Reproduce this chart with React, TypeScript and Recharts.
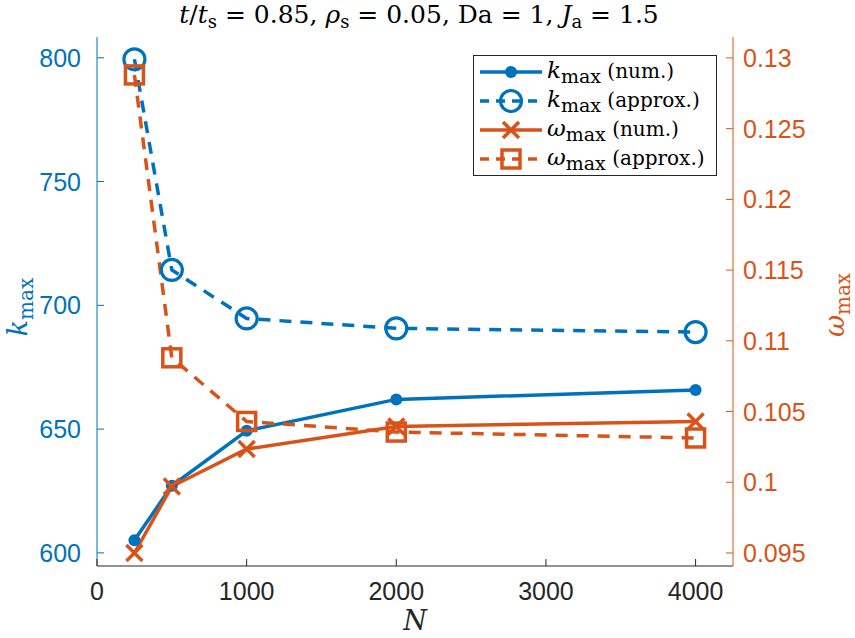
import React from 'react';
import { LineChart, Line, XAxis, YAxis } from 'recharts';

const N_VALUES = [250, 500, 1000, 2000, 4000];
const K_NUM = [605.1, 627.1, 649.3, 662.0, 665.8];
const K_APPROX = [799.4, 714.3, 694.7, 690.7, 689.2];
const W_NUM = [0.095, 0.0997, 0.10235, 0.10395, 0.1043];
const W_APPROX = [0.1288, 0.1088, 0.1043, 0.10355, 0.10313];

const X_TICKS = [0, 1000, 2000, 3000, 4000];
const K_TICKS = [600, 650, 700, 750, 800];
const W_TICKS = [0.095, 0.1, 0.105, 0.11, 0.115, 0.12, 0.125, 0.13];

const BLUE = '#0072BD';
const ORANGE = '#D95319';
const AXIS_GREY = '#262626';
const TICK_FONT = '"Liberation Sans", Arial, sans-serif';
const TEX_FONT = '"DejaVu Serif", serif';

const data = N_VALUES.map((n, i) => ({
  n,
  kNum: K_NUM[i],
  kApprox: K_APPROX[i],
  wNum: W_NUM[i],
  wApprox: W_APPROX[i],
}));

const fmtW = (v: number) => String(Number(v.toFixed(3)));

// marker shapes
const FilledDot = ({ cx, cy }: any) => <circle cx={cx} cy={cy} r={6} fill={BLUE} />;
const OpenDot = ({ cx, cy }: any) => (
  <circle cx={cx} cy={cy} r={10.5} fill="none" stroke={BLUE} strokeWidth={3.2} />
);
const CrossDot = ({ cx, cy }: any) => (
  <g stroke={ORANGE} strokeWidth={3.5}>
    <line x1={cx - 8} y1={cy - 8} x2={cx + 8} y2={cy + 8} />
    <line x1={cx - 8} y1={cy + 8} x2={cx + 8} y2={cy - 8} />
  </g>
);
const SquareDot = ({ cx, cy }: any) => (
  <rect x={cx - 9} y={cy - 9} width={18} height={18} fill="none" stroke={ORANGE} strokeWidth={3.5} />
);

const dotFn = (Shape: any) => (p: any) => <Shape key={`d-${p.index}`} cx={p.cx} cy={p.cy} />;

// inward ticks (MATLAB style) drawn together with the labels
const LeftTick = ({ x, y, payload }: any) => (
  <g>
    <line x1={x + 16} y1={y} x2={x + 23} y2={y} stroke={BLUE} strokeWidth={1} />
    <text x={x} y={y} dy="0.36em" textAnchor="end" fill={BLUE} fontSize={25} fontFamily={TICK_FONT}>
      {payload.value}
    </text>
  </g>
);
const RightTick = ({ x, y, payload }: any) => (
  <g>
    <line x1={x - 10} y1={y} x2={x - 17} y2={y} stroke={ORANGE} strokeWidth={1} />
    <text x={x} y={y} dy="0.36em" textAnchor="start" fill={ORANGE} fontSize={25} fontFamily={TICK_FONT}>
      {fmtW(payload.value)}
    </text>
  </g>
);
const BottomTick = ({ x, y, payload }: any) => (
  <g>
    <line x1={x} y1={y - 12} x2={x} y2={y - 19} stroke={AXIS_GREY} strokeWidth={1} />
    <text x={x} y={y} dy="0.88em" textAnchor="middle" fill={AXIS_GREY} fontSize={25} fontFamily={TICK_FONT}>
      {payload.value}
    </text>
  </g>
);

const LEGEND_ROWS = [
  { sym: 'k', label: ' (num.)', color: BLUE, dash: undefined, Shape: FilledDot },
  { sym: 'k', label: ' (approx.)', color: BLUE, dash: '9 7', Shape: OpenDot },
  { sym: 'ω', label: ' (num.)', color: ORANGE, dash: undefined, Shape: CrossDot },
  { sym: 'ω', label: ' (approx.)', color: ORANGE, dash: '9 7', Shape: SquareDot },
];

const LegendBox = () => (
  <svg width={245} height={121} style={{ display: 'block' }}>
    <rect x={0.5} y={0.5} width={243} height={120} fill="#fff" stroke="#262626" strokeWidth={1} />
    {LEGEND_ROWS.map((r, i) => {
      const y = 17 + i * 29;
      return (
        <g key={i}>
          <line x1={7} y1={y} x2={69} y2={y} stroke={r.color} strokeWidth={3.5} strokeDasharray={r.dash} />
          <r.Shape cx={38} cy={y} />
          <text x={74} y={y + 6} fill="#000" style={{ fontFamily: TEX_FONT, fontSize: 20 }}>
            <tspan fontStyle="italic" style={{ fontSize: 23 }}>{r.sym}</tspan>
            <tspan dy={5} style={{ fontSize: 19 }}>max</tspan>
            <tspan dy={-5}>{r.label}</tspan>
          </text>
        </g>
      );
    })}
  </svg>
);

const sub = (s: string, size: number) => (
  <sub style={{ fontSize: size, verticalAlign: 'baseline', position: 'relative', top: '0.3em' }}>{s}</sub>
);

export default function App() {
  return (
    <div style={{ position: 'absolute', left: 0, top: 0, width: 855, height: 638, background: '#fff', overflow: 'hidden' }}>
      <LineChart width={855} height={638} data={data} margin={{ top: 37, right: 0, bottom: 0, left: 0 }}>
        <XAxis
          dataKey="n"
          type="number"
          domain={[0, 4250]}
          ticks={X_TICKS}
          allowDataOverflow
          height={72}
          tickLine={false}
          tickSize={0}
          tickMargin={12}
          axisLine={{ stroke: AXIS_GREY, strokeWidth: 1 }}
          tick={<BottomTick />}
        />
        <YAxis
          yAxisId="k"
          orientation="left"
          width={97}
          domain={[594.7, 808.4]}
          ticks={K_TICKS}
          allowDataOverflow
          tickLine={false}
          tickSize={0}
          tickMargin={16}
          axisLine={{ stroke: BLUE, strokeWidth: 1 }}
          tick={<LeftTick />}
        />
        <YAxis
          yAxisId="w"
          orientation="right"
          width={122}
          domain={[0.09408, 0.13148]}
          ticks={W_TICKS}
          allowDataOverflow
          tickLine={false}
          tickSize={0}
          tickMargin={10}
          axisLine={{ stroke: ORANGE, strokeWidth: 1 }}
          tick={<RightTick />}
        />
        <Line yAxisId="k" dataKey="kNum" stroke={BLUE} strokeWidth={3.5} dot={dotFn(FilledDot)} activeDot={false} isAnimationActive={false} />
        <Line yAxisId="k" dataKey="kApprox" stroke={BLUE} strokeWidth={3.5} strokeDasharray="12 9" dot={dotFn(OpenDot)} activeDot={false} isAnimationActive={false} />
        <Line yAxisId="w" dataKey="wNum" stroke={ORANGE} strokeWidth={3.5} dot={dotFn(CrossDot)} activeDot={false} isAnimationActive={false} />
        <Line yAxisId="w" dataKey="wApprox" stroke={ORANGE} strokeWidth={3.5} strokeDasharray="12 9" dot={dotFn(SquareDot)} activeDot={false} isAnimationActive={false} />
      </LineChart>

      <div style={{ position: 'absolute', left: 473, top: 55 }}>
        <LegendBox />
      </div>

      <div style={{ position: 'absolute', left: 0, top: 0, width: 838, textAlign: 'center', fontFamily: TEX_FONT, fontSize: 25, color: '#000', whiteSpace: 'nowrap' }}>
        <i>t</i>/<i>t</i>{sub('s', 18)} = 0.85, <i>ρ</i>{sub('s', 18)} = 0.05, Da = 1, <i>J</i>{sub('a', 18)} = 1.5
      </div>
      <div style={{ position: 'absolute', left: 395, top: 605, width: 40, textAlign: 'center', fontFamily: TEX_FONT, fontSize: 27, fontStyle: 'italic', color: AXIS_GREY }}>
        N
      </div>
      <div style={{ position: 'absolute', left: 17, top: 307, transform: 'translate(-50%, -50%) rotate(-90deg)', fontFamily: TEX_FONT, fontSize: 27, color: BLUE, whiteSpace: 'nowrap' }}>
        <i>k</i>{sub('max', 20)}
      </div>
      <div style={{ position: 'absolute', left: 834, top: 305, transform: 'translate(-50%, -50%) rotate(-90deg)', fontFamily: TEX_FONT, fontSize: 27, color: ORANGE, whiteSpace: 'nowrap' }}>
        <i>ω</i>{sub('max', 20)}
      </div>
    </div>
  );
}
